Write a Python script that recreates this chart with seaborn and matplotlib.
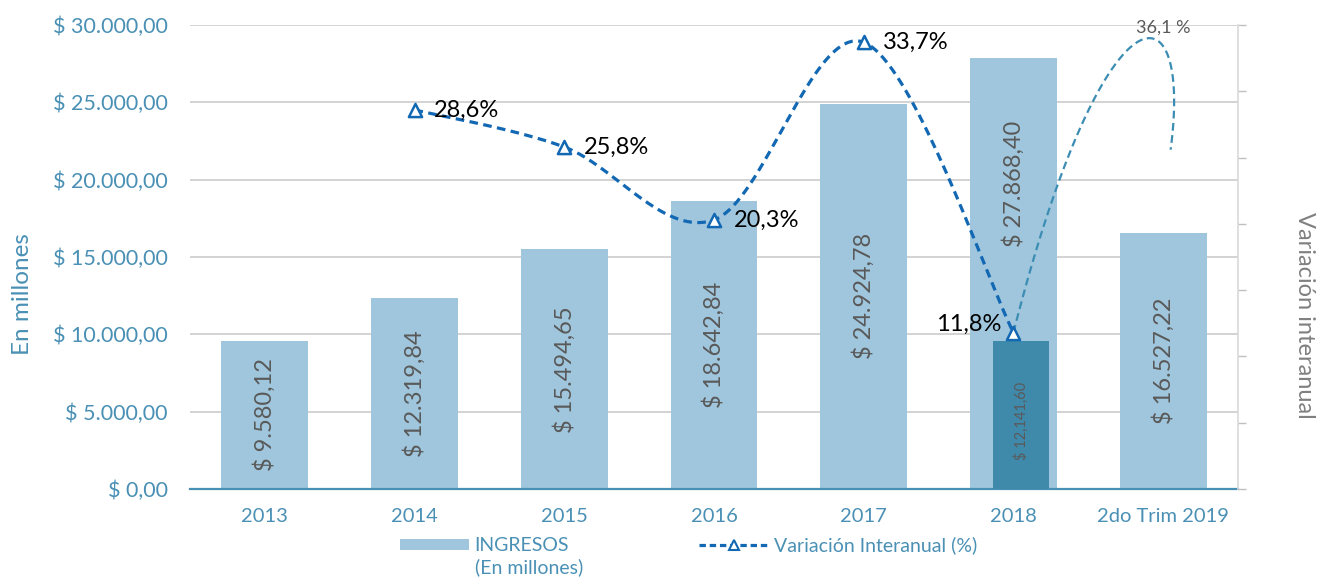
import numpy as np
import pandas as pd
import matplotlib
matplotlib.use("Agg")
import matplotlib.pyplot as plt
import seaborn as sns
from matplotlib.ticker import FuncFormatter, MultipleLocator
from matplotlib.lines import Line2D
from matplotlib.patches import Patch

# Data
years = ["2013", "2014", "2015", "2016", "2017", "2018", "2do Trim 2019"]
ingresos = [9580.12, 12319.84, 15494.65, 18642.84, 24924.78, 27868.40, 16527.22]

# 2018 overlay bar (drawn height as seen, label as printed)
overlay_year = "2018"
overlay_height = 9550
overlay_label = "$ 12,141,60"

var_years = ["2014", "2015", "2016", "2017", "2018"]
var_values = [28.6, 25.8, 20.3, 33.7, 11.8]

# the odd loop to 2do Trim 2019
var_2019_peak = 36.1
var_2019_end = 25.6

TEAL = "#4A90B5"
BAR = "#A0C6DD"
DARK_BAR = "#3F89AB"
LINE = "#1268B3"
LINE2 = "#3C8DB4"
GRID = "#D0D0D0"


def money(v):
    s = f"{v:,.2f}".replace(",", "X").replace(".", ",").replace("X", ".")
    return "$ " + s


def smooth(xs, ys, n=40):
    # Excel style smoothing: cubic bezier, control points from neighbours / 6
    pts = np.column_stack([xs, ys]).astype(float)
    out = [pts[0]]
    t = np.linspace(0, 1, n)[1:, None]
    for i in range(len(pts) - 1):
        p0 = pts[max(i - 1, 0)]
        p1, p2 = pts[i], pts[i + 1]
        p3 = pts[min(i + 2, len(pts) - 1)]
        c1 = p1 + (p2 - p0) / 6
        c2 = p2 - (p3 - p1) / 6
        seg = (1 - t) ** 3 * p1 + 3 * (1 - t) ** 2 * t * c1 + 3 * (1 - t) * t ** 2 * c2 + t ** 3 * p2
        out.extend(seg)
    out = np.array(out)
    return out[:, 0], out[:, 1]


def bezier(p0, c1, c2, p3, n=80):
    t = np.linspace(0, 1, n)[:, None]
    p0, c1, c2, p3 = map(np.asarray, (p0, c1, c2, p3))
    b = (1 - t) ** 3 * p0 + 3 * (1 - t) ** 2 * t * c1 + 3 * (1 - t) * t ** 2 * c2 + t ** 3 * p3
    return b[:, 0], b[:, 1]


sns.set_style("white")
plt.rcParams["font.family"] = ["Lato", "DejaVu Sans"]

df = pd.DataFrame({"year": years, "ingresos": ingresos})

fig = plt.figure(figsize=(13.19, 5.79), dpi=100)
ax = fig.add_axes([0.144, 0.1554, 0.9386 - 0.144, 0.9568 - 0.1554])

sns.barplot(data=df, x="year", y="ingresos", color=BAR, saturation=1, width=0.58, ax=ax, zorder=2)
for p in ax.patches:
    p.set_edgecolor("none")

pos = {y: i for i, y in enumerate(years)}
ax.bar(pos[overlay_year] + 0.05, overlay_height, width=0.37, color=DARK_BAR,
       linewidth=0, edgecolor="none", zorder=3)

ax.set_ylim(0, 30000)
ax.set_xlim(-0.5, 6.5)
ax.yaxis.set_major_locator(MultipleLocator(5000))
ax.yaxis.set_major_formatter(FuncFormatter(lambda v, _: money(v)))
ax.grid(axis="y", color=GRID, lw=1.3, zorder=0)
ax.set_axisbelow(True)
ax.tick_params(axis="both", length=0, labelsize=14.5, labelcolor=TEAL)
ax.tick_params(axis="y", pad=16, labelsize=15.5)
ax.tick_params(axis="x", pad=14)
ax.set_xlabel("")
ax.set_ylabel("")
for s in ["left", "right", "top"]:
    ax.spines[s].set_visible(False)
ax.spines["bottom"].set_color(TEAL)
ax.spines["bottom"].set_linewidth(1.6)

# bar value labels
for i, v in enumerate(ingresos):
    yc = v / 2
    if years[i] == overlay_year:
        yc = (v + overlay_height) / 2 + 1000
    ax.text(i, yc, money(v), rotation=90, ha="center", va="center",
            fontsize=17, color="#595959", zorder=4)
ax.text(pos[overlay_year] + 0.05, overlay_height / 2 - 400, overlay_label, rotation=90,
        ha="center", va="center", fontsize=10.5, color="#5a5a5a", zorder=4)

# secondary axis: interannual variation
ax2 = ax.twinx()
ax2.set_ylim(0, 35)
ax2.yaxis.set_major_locator(MultipleLocator(5))
ax2.tick_params(axis="y", length=6, width=1, color="#BFBFBF", labelright=False, direction="out")
for s in ["left", "top", "bottom"]:
    ax2.spines[s].set_visible(False)
ax2.spines["right"].set_color("#D9D9D9")
ax2.spines["right"].set_linewidth(1.2)

vx = [pos[y] for y in var_years]
sx, sy = smooth(vx, var_values)
ax2.plot(sx, sy, color=LINE, lw=2.3, ls=(0, (2.7, 1.7)), zorder=5)

x18 = pos["2018"]
x19 = pos["2do Trim 2019"]
bx, by = bezier((x18, var_values[-1]), (x18 + 0.6, 38.5), (x19 + 0.2, 38.5),
                (x19 + 0.05, var_2019_end))
ax2.plot(bx, by, color=LINE2, lw=1.6, ls=(0, (3.5, 2)), zorder=4)

sns.scatterplot(x=vx, y=var_values, marker="^", s=90, facecolor="white",
                edgecolor=LINE, linewidth=1.8, ax=ax2, zorder=6)

for x, v in zip(vx, var_values):
    txt = f"{v:.1f}%".replace(".", ",")
    if v == var_values[-1]:
        ax2.annotate(txt, (x, v), xytext=(-9, 6), textcoords="offset points",
                     ha="right", va="center", fontsize=17, color="black", zorder=7)
    else:
        ax2.annotate(txt, (x, v), xytext=(14, 0), textcoords="offset points",
                     ha="left", va="center", fontsize=17, color="black", zorder=7)

ax2.annotate(f"{var_2019_peak:.1f} %".replace(".", ","), (x19 + 0.0, by.max()),
             xytext=(0, 2), textcoords="offset points", ha="center", va="bottom",
             fontsize=13, color="#595959")

# axis titles
fig.text(0.017, 0.492, "En millones", rotation=90, ha="center", va="center",
         fontsize=17.5, color=TEAL)
fig.text(0.989, 0.456, "Variación interanual", rotation=270, ha="center", va="center",
         fontsize=17, color="#808080")

# legend
handles = [
    Patch(facecolor=BAR, edgecolor="none"),
    Line2D([0], [0], color=LINE, lw=2.3, ls=(0, (2.0, 1.2)), marker="^",
           markersize=7, markerfacecolor="white", markeredgecolor=LINE, markeredgewidth=1.5),
]
leg = fig.legend(handles, ["INGRESOS", "Variación Interanual (%)"], ncol=2,
                 loc="center", bbox_to_anchor=(0.522, 0.058), frameon=False,
                 fontsize=14, handlelength=3.55, handleheight=0.55, columnspacing=6.7,
                 handletextpad=0.3)
for t in leg.get_texts():
    t.set_color(TEAL)

fig.canvas.draw()
bb = leg.get_texts()[0].get_window_extent()
x0, y0 = fig.transFigure.inverted().transform((bb.x0, bb.y0))
fig.text(x0, y0 - 0.006, "(En millones)", ha="left", va="top", fontsize=14, color=TEAL)

fig.savefig("out.png", dpi=100)
